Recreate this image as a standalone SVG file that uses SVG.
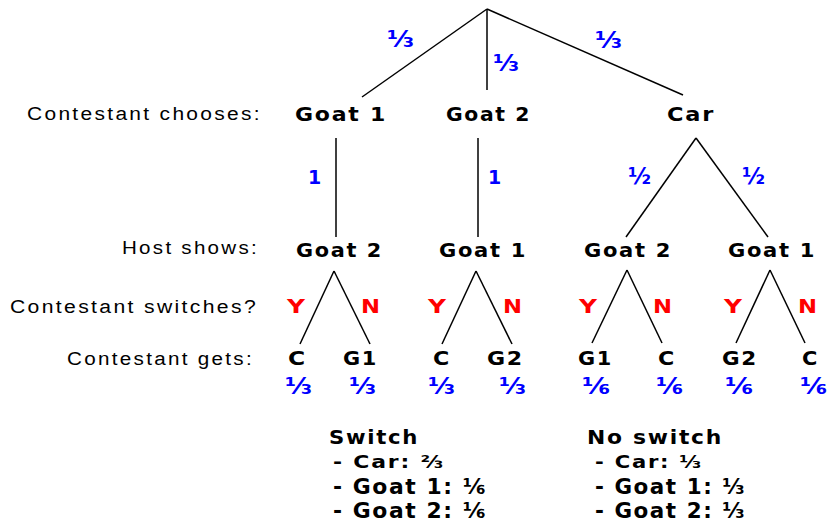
<svg xmlns="http://www.w3.org/2000/svg" width="827" height="523" viewBox="0 0 827 523">
<style>
.lbl{font-family:"Liberation Sans",Arial,sans-serif;font-size:18px;letter-spacing:2px;fill:#000}
.nd{font-family:"DejaVu Sans","Liberation Sans",sans-serif;font-size:19px;font-weight:bold;letter-spacing:1.5px;fill:#000}
.yn{font-family:"DejaVu Sans","Liberation Sans",sans-serif;font-size:20px;font-weight:bold;fill:#ff0000}
.fr{font-family:"DejaVu Sans","Liberation Sans",sans-serif;font-size:23px;font-weight:bold;fill:#0000ff}
.one{font-family:"DejaVu Sans","Liberation Sans",sans-serif;font-size:19px;font-weight:bold;fill:#0000ff}
.sm{font-family:"DejaVu Sans","Liberation Sans",sans-serif;font-weight:bold;letter-spacing:1.5px;fill:#000}
.ln{stroke:#000;stroke-width:1.5;fill:none}
</style>
<rect width="827" height="523" fill="#fff"/>
<g id="connectors" class="ln">
<line x1="487" y1="9" x2="362" y2="97"/>
<line x1="487" y1="9" x2="487" y2="90"/>
<line x1="487" y1="9" x2="683" y2="95"/>
<line x1="336" y1="138" x2="336" y2="237"/>
<line x1="478" y1="138" x2="478" y2="237"/>
<line x1="696" y1="138" x2="626" y2="237"/>
<line x1="696" y1="138" x2="768" y2="237"/>
<line x1="334" y1="271" x2="300" y2="344"/>
<line x1="334" y1="271" x2="370" y2="344"/>
<line x1="476" y1="271" x2="442" y2="344"/>
<line x1="476" y1="271" x2="512" y2="344"/>
<line x1="627" y1="270" x2="592" y2="343"/>
<line x1="627" y1="270" x2="662" y2="343"/>
<line x1="770" y1="270" x2="736" y2="343"/>
<line x1="770" y1="270" x2="805" y2="343"/>
</g>
<g id="edge-labels">
<text class="fr" x="387" y="47" textLength="27" lengthAdjust="spacingAndGlyphs">⅓</text>
<text class="fr" x="493" y="71" textLength="26" lengthAdjust="spacingAndGlyphs">⅓</text>
<text class="fr" x="595" y="48" textLength="27" lengthAdjust="spacingAndGlyphs">⅓</text>
<text class="one" x="308" y="184">1</text>
<text class="one" x="488" y="184">1</text>
<text class="fr" x="628" y="184" textLength="23" lengthAdjust="spacingAndGlyphs">½</text>
<text class="fr" x="742" y="184" textLength="23" lengthAdjust="spacingAndGlyphs">½</text>
<text class="yn" x="287" y="313" textLength="18" lengthAdjust="spacingAndGlyphs">Y</text>
<text class="yn" x="361" y="313" textLength="19" lengthAdjust="spacingAndGlyphs">N</text>
<text class="yn" x="428" y="313" textLength="18" lengthAdjust="spacingAndGlyphs">Y</text>
<text class="yn" x="503" y="313" textLength="19" lengthAdjust="spacingAndGlyphs">N</text>
<text class="yn" x="579" y="313" textLength="18" lengthAdjust="spacingAndGlyphs">Y</text>
<text class="yn" x="653" y="313" textLength="19" lengthAdjust="spacingAndGlyphs">N</text>
<text class="yn" x="724" y="313" textLength="18" lengthAdjust="spacingAndGlyphs">Y</text>
<text class="yn" x="798" y="313" textLength="19" lengthAdjust="spacingAndGlyphs">N</text>
</g>
<g id="row-labels">
<text class="lbl" x="27" y="120" textLength="235" lengthAdjust="spacingAndGlyphs">Contestant chooses:</text>
<text class="lbl" x="122" y="254" textLength="137" lengthAdjust="spacingAndGlyphs">Host shows:</text>
<text class="lbl" x="10" y="313" textLength="248" lengthAdjust="spacingAndGlyphs">Contestant switches?</text>
<text class="lbl" x="67" y="365" textLength="187" lengthAdjust="spacingAndGlyphs">Contestant gets:</text>
</g>
<g id="choose-goat1"><text class="nd" x="295" y="121" textLength="92" lengthAdjust="spacingAndGlyphs">Goat 1</text></g>
<g id="choose-goat2"><text class="nd" x="446" y="121" textLength="85" lengthAdjust="spacingAndGlyphs">Goat 2</text></g>
<g id="choose-car"><text class="nd" x="667" y="121" textLength="48" lengthAdjust="spacingAndGlyphs">Car</text></g>
<g id="host-goat2-a"><text class="nd" x="296" y="257" textLength="87" lengthAdjust="spacingAndGlyphs">Goat 2</text></g>
<g id="host-goat1-a"><text class="nd" x="439" y="257" textLength="88" lengthAdjust="spacingAndGlyphs">Goat 1</text></g>
<g id="host-goat2-b"><text class="nd" x="584" y="257" textLength="88" lengthAdjust="spacingAndGlyphs">Goat 2</text></g>
<g id="host-goat1-b"><text class="nd" x="728" y="257" textLength="88" lengthAdjust="spacingAndGlyphs">Goat 1</text></g>
<g id="gets-1"><text class="nd" x="288" y="365" textLength="19" lengthAdjust="spacingAndGlyphs">C</text><text class="fr" x="285" y="394" textLength="27" lengthAdjust="spacingAndGlyphs">⅓</text></g>
<g id="gets-2"><text class="nd" x="343" y="365" textLength="35" lengthAdjust="spacingAndGlyphs">G1</text><text class="fr" x="349" y="394" textLength="27" lengthAdjust="spacingAndGlyphs">⅓</text></g>
<g id="gets-3"><text class="nd" x="433" y="365" textLength="18" lengthAdjust="spacingAndGlyphs">C</text><text class="fr" x="428" y="394" textLength="27" lengthAdjust="spacingAndGlyphs">⅓</text></g>
<g id="gets-4"><text class="nd" x="487" y="365" textLength="37" lengthAdjust="spacingAndGlyphs">G2</text><text class="fr" x="499" y="394" textLength="27" lengthAdjust="spacingAndGlyphs">⅓</text></g>
<g id="gets-5"><text class="nd" x="578" y="365" textLength="35" lengthAdjust="spacingAndGlyphs">G1</text><text class="fr" x="582" y="394" textLength="28" lengthAdjust="spacingAndGlyphs">⅙</text></g>
<g id="gets-6"><text class="nd" x="658" y="365" textLength="18" lengthAdjust="spacingAndGlyphs">C</text><text class="fr" x="656" y="394" textLength="27" lengthAdjust="spacingAndGlyphs">⅙</text></g>
<g id="gets-7"><text class="nd" x="722" y="365" textLength="36" lengthAdjust="spacingAndGlyphs">G2</text><text class="fr" x="725" y="394" textLength="28" lengthAdjust="spacingAndGlyphs">⅙</text></g>
<g id="gets-8"><text class="nd" x="802" y="365" textLength="17" lengthAdjust="spacingAndGlyphs">C</text><text class="fr" x="800" y="394" textLength="27" lengthAdjust="spacingAndGlyphs">⅙</text></g>
<g id="summary-switch">
<text class="sm" x="329" y="444" font-size="19" textLength="90" lengthAdjust="spacingAndGlyphs">Switch</text>
<text class="sm" x="333" y="468" font-size="18" textLength="112" lengthAdjust="spacingAndGlyphs">- Car: ⅔</text>
<text class="sm" x="333" y="494" font-size="21" textLength="154" lengthAdjust="spacingAndGlyphs">- Goat 1: ⅙</text>
<text class="sm" x="333" y="518" font-size="21" textLength="154" lengthAdjust="spacingAndGlyphs">- Goat 2: ⅙</text>
</g>
<g id="summary-noswitch">
<text class="sm" x="587" y="444" font-size="19" textLength="136" lengthAdjust="spacingAndGlyphs">No switch</text>
<text class="sm" x="595" y="468" font-size="18" textLength="108" lengthAdjust="spacingAndGlyphs">- Car: ⅓</text>
<text class="sm" x="595" y="494" font-size="21" textLength="151" lengthAdjust="spacingAndGlyphs">- Goat 1: ⅓</text>
<text class="sm" x="595" y="518" font-size="21" textLength="151" lengthAdjust="spacingAndGlyphs">- Goat 2: ⅓</text>
</g>
</svg>
